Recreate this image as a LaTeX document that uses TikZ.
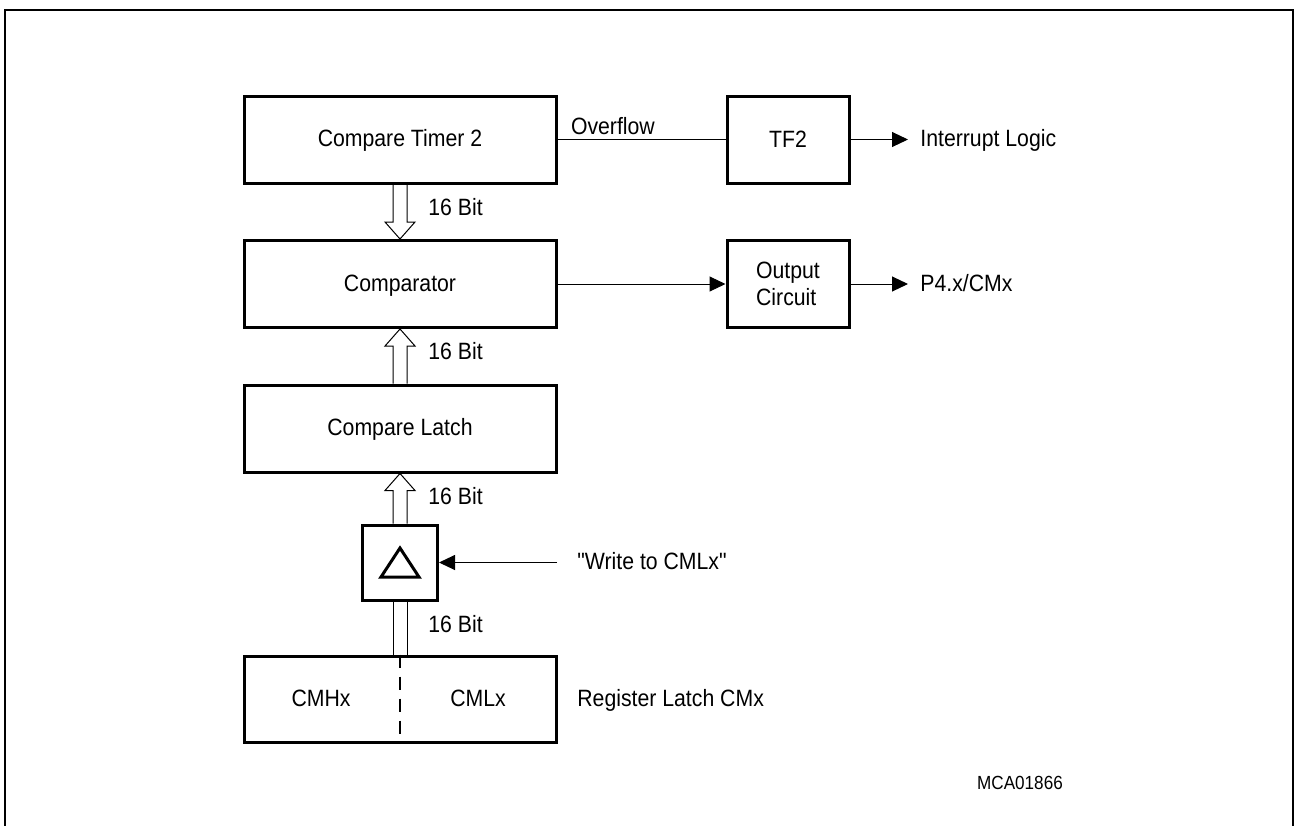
\documentclass[tikz,border=0pt]{standalone}
\usepackage{fontspec}
\setmainfont{Liberation Sans}[FakeStretch=0.9, Ligatures=TeXOff]
\usetikzlibrary{arrows.meta,calc}

\tikzset{
  box/.style={draw, line width=1.5pt, inner sep=0pt, minimum height=43.5pt},
  blk/.style={box, minimum width=156pt, text height=0.716em, text depth=0pt},
  flagblk/.style={box, minimum width=61pt},
  sig/.style={line width=0.5pt, -{Triangle[length=8pt,width=7.5pt]}},
  bus/.style={line width=0.5pt, line join=miter},
  lbl/.style={inner sep=0pt, text height=0.716em, text depth=0pt},
}
% hollow 16-bit bus arrow from #1 (tail) to #2 (tip)
\newcommand{\busarrow}[2]{%
  \coordinate (bh) at ($(#2)!8.5pt!(#1)$);
  \draw[bus] ($(#1)!3.5pt!90:(#2)$) -- ($(bh)!3.5pt!90:(#2)$) -- ($(bh)!7.5pt!90:(#2)$)
    -- (#2) -- ($(bh)!7.5pt!-90:(#2)$) -- ($(bh)!3.5pt!-90:(#2)$) -- ($(#1)!3.5pt!-90:(#2)$);
}

\begin{document}
\begin{tikzpicture}[x=0.5pt, y=-0.5pt, font=\fontsize{11.8pt}{13.5pt}\selectfont]
    \useasboundingbox (0,0) rectangle (1295,825);
    % outer frame, open at the bottom
    \draw[line width=1.3pt] (5,830) -- (5,10) -- (1293,10) -- (1293,830);

    % main column
    \node[blk] (ct2) at (400,139.5) {Compare Timer 2};
    \node[blk] (cmp) at (400,284) {Comparator};
    \node[blk] (latch) at (400,428.5) {Compare Latch};
    \node[draw, line width=1.5pt, minimum size=37.5pt] (delta) at (400,562.5) {};
    \node[blk, minimum height=43pt] (reg) at (400,699) {};
    \node[lbl] (cmh) at (321,699) {CMHx};
    \node[lbl] (cml) at (478,699) {CMLx};
    \draw[line width=0.7pt, dash pattern=on 6.5pt off 4.5pt] (reg.north) -- (reg.south);
    \draw[line width=1.5pt] ($(delta.center)+(0,-14.5)$) -- ($(delta.center)+(19,14.5)$)
        -- ($(delta.center)+(-19,14.5)$) -- cycle;

    % right column
    \node[flagblk] (tf2) at (788,139.5) {TF2};
    \node[flagblk, align=left] (outc) at (788,284) {Output\\Circuit};

    % labels
    \node[lbl, anchor=west] (intr) at (920,139.5) {Interrupt Logic};
    \node[lbl, anchor=west] (port) at (920,284) {P4.x/CMx};
    \node[lbl, anchor=west] (wr) at (577,562.5) {"Write to CMLx"};
    \node[lbl, anchor=west] (rlat) at (577,699) {Register Latch CMx};
    \node[lbl, font=\fontsize{9.5pt}{11pt}\selectfont] (code) at (1020,782) {MCA01866};
    \node[lbl, anchor=west] (w1) at (428,208.5) {16 Bit};
    \node[lbl, anchor=west] (w2) at (428,352.5) {16 Bit};
    \node[lbl, anchor=west] (w3) at (428,497) {16 Bit};
    \node[lbl, anchor=west] (w4) at (428,625.5) {16 Bit};

    % signals
    \draw[line width=0.5pt] (ct2.east) -- node[lbl, pos=0, anchor=south west, xshift=6.5pt, yshift=2.5pt] (ovf) {Overflow} (tf2.west);
    \draw[sig, shorten >=6pt] (tf2.east) -- (intr.west);
    \draw[sig] (cmp.east) -- (outc.west);
    \draw[sig, shorten >=6pt] (outc.east) -- (port.west);
    \draw[sig, shorten <=10pt] (wr.west) -- (delta.east);

    % 16 bit buses
    \busarrow{ct2.south}{cmp.north}
    \busarrow{latch.north}{cmp.south}
    \busarrow{delta.north}{latch.south}
    \draw[bus] ($(reg.north)+(-7,0)$) -- ($(delta.south)+(-7,0)$);
    \draw[bus] ($(reg.north)+(7,0)$) -- ($(delta.south)+(7,0)$);
\end{tikzpicture}
\end{document}
